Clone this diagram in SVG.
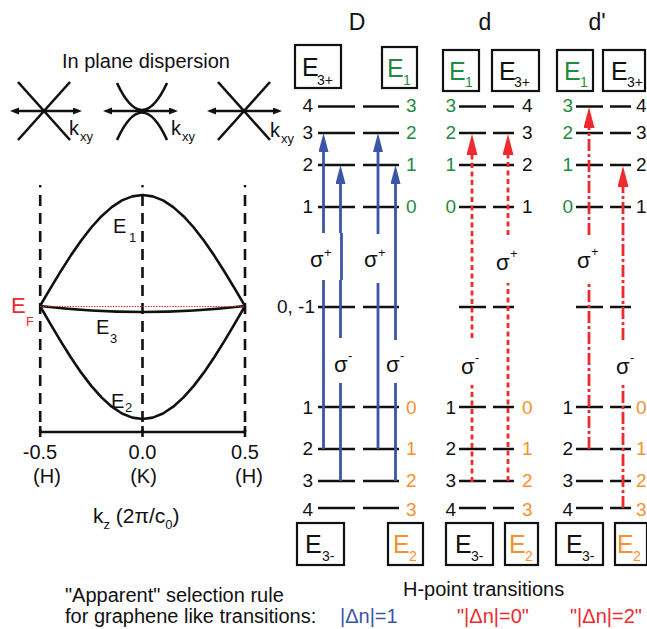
<svg xmlns="http://www.w3.org/2000/svg" width="647" height="629" viewBox="0 0 647 629">
  <style>
    text { font-family: "Liberation Sans", Arial, Helvetica, sans-serif; fill: #111; }
    .lbl { font-size: 19px; }
    .ttl { font-size: 23px; }
    .big { font-size: 20px; }
    .bx { font-size: 25px; }
    .bxs { font-size: 14px; }
    .sig { font-size: 22px; }
    .sup { font-size: 13px; }
    .g { fill: #1e8c3c; }
    .o { fill: #f7902d; }
    .r { fill: #ee2a2e; }
    .b { fill: #3b56a6; }
    .lvl { stroke: #111; stroke-width: 2.6; }
    .box { fill: #fff; stroke: #111; stroke-width: 2.2; }
    .blue { stroke: #3b56a6; stroke-width: 2.8; fill: none; }
    .redd { stroke: #ee2a2e; stroke-width: 2.8; fill: none; stroke-dasharray: 5 3.5; }
    .reddd { stroke: #ee2a2e; stroke-width: 2.8; fill: none; stroke-dasharray: 12 3 3 3; }
    .ax { stroke: #111; stroke-width: 2.6; fill: none; }
    .vd { stroke: #111; stroke-width: 2.6; stroke-dasharray: 11 7; }
  </style>
  <defs>
    <marker id="headB" markerUnits="userSpaceOnUse" markerWidth="20" markerHeight="12" refX="0" refY="5" orient="auto">
      <path d="M0,0 L19,5 L0,10 z" fill="#3b56a6"/>
    </marker>
    <marker id="headR" markerUnits="userSpaceOnUse" markerWidth="22" markerHeight="12" refX="0" refY="5.5" orient="auto">
      <path d="M0,0 L21,5.5 L0,11 z" fill="#ee2a2e"/>
    </marker>
    <marker id="headK" markerUnits="userSpaceOnUse" markerWidth="10" markerHeight="8" refX="0" refY="3.5" orient="auto-start-reverse">
      <path d="M0,0 L9,3.5 L0,7 z" fill="#111"/>
    </marker>
  </defs>

  <!-- in-plane dispersion sketches -->
  <g id="inplane">
    <text class="big" x="62" y="68">In plane dispersion</text>
    <g id="cone-left">
      <line class="ax" x1="18" y1="82" x2="70" y2="140"/>
      <line class="ax" x1="70" y1="82" x2="18" y2="140"/>
      <line class="ax" x1="19" y1="111" x2="73" y2="111" marker-start="url(#headK)" marker-end="url(#headK)"/>
      <text class="big" x="69" y="135">k</text>
      <text class="sup" x="80" y="141">xy</text>
    </g>
    <g id="cone-mid">
      <path class="ax" d="M117,83 Q142,137 167,83"/>
      <path class="ax" d="M117,140 Q142,85 167,140"/>
      <line class="ax" x1="112" y1="111" x2="169" y2="111" marker-start="url(#headK)" marker-end="url(#headK)"/>
      <text class="big" x="171" y="135">k</text>
      <text class="sup" x="182" y="141">xy</text>
    </g>
    <g id="cone-right">
      <line class="ax" x1="218" y1="82" x2="270" y2="140"/>
      <line class="ax" x1="270" y1="82" x2="218" y2="140"/>
      <line class="ax" x1="216" y1="111" x2="273" y2="111" marker-start="url(#headK)" marker-end="url(#headK)"/>
      <text class="big" x="270" y="137">k</text>
      <text class="sup" x="281" y="143">xy</text>
    </g>
  </g>

  <!-- out-of-plane (kz) dispersion -->
  <g id="kz-plot">
    <rect x="39" y="185" width="2.4" height="2.4" fill="#111"/>
    <rect x="141.3" y="185" width="2.4" height="2.4" fill="#111"/>
    <rect x="243.8" y="185" width="2.4" height="2.4" fill="#111"/>
    <line class="vd" x1="40.2" y1="195" x2="40.2" y2="432"/>
    <line class="vd" x1="142.5" y1="195" x2="142.5" y2="432"/>
    <line class="vd" x1="245" y1="195" x2="245" y2="432"/>
    <polyline class="ax" stroke-linejoin="round" points="40,306 50.25,288.6 60.5,271.7 70.75,255.6 81,240.8 91.25,227.5 101.5,216.2 111.75,207.1 122,200.4 132.25,196.4 142.5,195 152.75,196.4 163,200.4 173.25,207.1 183.5,216.2 193.75,227.5 204,240.8 214.25,255.6 224.5,271.7 234.75,288.6 245,306"/>
    <polyline class="ax" stroke-linejoin="round" points="40,306 50.25,323.7 60.5,340.9 70.75,357.3 81,372.4 91.25,385.9 101.5,397.4 111.75,406.7 122,413.5 132.25,417.6 142.5,419 152.75,417.6 163,413.5 173.25,406.7 183.5,397.4 193.75,385.9 204,372.4 214.25,357.3 224.5,340.9 234.75,323.7 245,306"/>
    <path class="ax" stroke-width="2.8" d="M40,306 Q142.5,318 245,306"/>
    <line x1="40" y1="306.5" x2="245" y2="306.5" stroke="#ee2a2e" stroke-width="1" stroke-dasharray="1.5 1.2"/>
    <line class="ax" stroke-width="3.4" x1="40" y1="432" x2="245" y2="432"/>
    <line class="ax" stroke-width="3.4" x1="40.2" y1="426" x2="40.2" y2="437"/>
    <line class="ax" stroke-width="3.4" x1="142.5" y1="426" x2="142.5" y2="437"/>
    <line class="ax" stroke-width="3.4" x1="245" y1="426" x2="245" y2="437"/>
    <text class="big" x="113" y="233">E</text>
    <text class="sup" x="129" y="242">1</text>
    <text class="big" x="96" y="334">E</text>
    <text class="sup" x="110" y="343">3</text>
    <text class="big" x="111" y="408">E</text>
    <text class="sup" x="125" y="412">2</text>
    <text class="r" font-size="22" x="11" y="313">E</text>
    <text class="r sup" x="26" y="326">F</text>
    <text class="big" x="40" y="459" text-anchor="middle">-0.5</text>
    <text class="big" x="142.5" y="459" text-anchor="middle">0.0</text>
    <text class="big" x="245" y="459" text-anchor="middle">0.5</text>
    <text class="big" x="47" y="483" text-anchor="middle">(H)</text>
    <text class="big" x="143.5" y="483" text-anchor="middle">(K)</text>
    <text class="big" x="249" y="483" text-anchor="middle">(H)</text>
    <text font-size="21" x="93" y="523">k<tspan font-size="13" dy="6">z</tspan><tspan dy="-6"> (2π/c</tspan><tspan font-size="13" dy="6">0</tspan><tspan dy="-6">)</tspan></text>
  </g>

  <!-- column titles -->
  <text class="ttl" x="357" y="30" text-anchor="middle">D</text>
  <text class="ttl" x="485" y="30" text-anchor="middle">d</text>
  <text class="ttl" x="597" y="30" text-anchor="middle">d'</text>

  <!-- Landau level ladders -->
  <g id="levels-D">
    <path class="lvl" d="M318,106.5H355M363,106.5H399M318,133H355M363,133H399M318,165H355M363,165H399M318,207H355M363,207H399M318,307H355M363,307H399M318,407H355M363,407H399M318,449H355M363,449H399M318,481H355M363,481H399M318,508H355M363,508H399"/>
    <g class="lbl" text-anchor="end">
      <text x="313" y="112">4</text><text x="313" y="139">3</text><text x="313" y="171">2</text><text x="313" y="213">1</text>
      <text x="315" y="313">0, -1</text>
      <text x="313" y="414">1</text><text x="313" y="455">2</text><text x="313" y="487">3</text><text x="313" y="516">4</text>
    </g>
    <g class="lbl">
      <text class="g" x="406" y="112">3</text><text class="g" x="406" y="139">2</text><text class="g" x="406" y="171">1</text><text class="g" x="406" y="213">0</text>
      <text class="o" x="406" y="414">0</text><text class="o" x="406" y="455">1</text><text class="o" x="406" y="487">2</text><text class="o" x="406" y="516">3</text>
    </g>
  </g>
  <g id="levels-d">
    <path class="lvl" d="M459,106.5H486M493,106.5H514M459,133H486M493,133H514M459,165H486M493,165H514M459,207H486M493,207H514M459,307H486M493,307H514M459,407H486M493,407H514M459,449H486M493,449H514M459,481H486M493,481H514M459,508H486M493,508H514"/>
    <g class="lbl" text-anchor="end">
      <text class="g" x="456" y="112">3</text><text class="g" x="456" y="139">2</text><text class="g" x="456" y="171">1</text><text class="g" x="456" y="213">0</text>
      <text x="456" y="414">1</text><text x="456" y="455">2</text><text x="456" y="487">3</text><text x="456" y="516">4</text>
    </g>
    <g class="lbl">
      <text x="522" y="112">4</text><text x="522" y="139">3</text><text x="522" y="171">2</text><text x="522" y="213">1</text>
      <text class="o" x="522" y="414">0</text><text class="o" x="522" y="455">1</text><text class="o" x="522" y="487">2</text><text class="o" x="522" y="516">3</text>
    </g>
  </g>
  <g id="levels-dp">
    <path class="lvl" d="M576,106.5H603M610,106.5H631M576,133H603M610,133H631M576,165H603M610,165H631M576,207H603M610,207H631M576,307H603M610,307H631M576,407H603M610,407H631M576,449H603M610,449H631M576,481H603M610,481H631M576,508H603M610,508H631"/>
    <g class="lbl" text-anchor="end">
      <text class="g" x="573" y="112">3</text><text class="g" x="573" y="139">2</text><text class="g" x="573" y="171">1</text><text class="g" x="573" y="213">0</text>
      <text x="573" y="414">1</text><text x="573" y="455">2</text><text x="573" y="487">3</text><text x="573" y="516">4</text>
    </g>
    <g class="lbl">
      <text x="636" y="112">4</text><text x="636" y="139">3</text><text x="636" y="171">2</text><text x="636" y="213">1</text>
      <text class="o" x="636" y="414">0</text><text class="o" x="636" y="455">1</text><text class="o" x="636" y="487">2</text><text class="o" x="636" y="516">3</text>
    </g>
  </g>

  <!-- band boxes -->
  <g id="box-D-E3p"><rect class="box" x="295" y="45" width="46" height="43"/><text class="bx" x="302" y="76">E</text><text class="bxs" x="317" y="85">3+</text></g>
  <g id="box-D-E1"><rect class="box" x="382" y="47" width="35" height="41"/><text class="bx g" x="387" y="77">E</text><text class="bxs g" x="403" y="85">1</text></g>
  <g id="box-d-E1"><rect class="box" x="443" y="50" width="36" height="41"/><text class="bx g" x="449" y="80">E</text><text class="bxs g" x="465" y="87">1</text></g>
  <g id="box-d-E3p"><rect class="box" x="492" y="50" width="47" height="41"/><text class="bx" x="499" y="80">E</text><text class="bxs" x="514" y="87">3+</text></g>
  <g id="box-dp-E1"><rect class="box" x="557" y="50" width="36" height="41"/><text class="bx g" x="564" y="80">E</text><text class="bxs g" x="580" y="87">1</text></g>
  <g id="box-dp-E3p"><rect class="box" x="603" y="50" width="42" height="41"/><text class="bx" x="611" y="80">E</text><text class="bxs" x="627" y="87">3+</text></g>
  <g id="box-D-E3m"><rect class="box" x="297" y="523" width="47" height="42"/><text class="bx" x="305" y="553">E</text><text class="bxs" x="322" y="561">3-</text></g>
  <g id="box-D-E2"><rect class="box" x="388" y="523" width="35" height="42"/><text class="bx o" x="393" y="553">E</text><text class="bxs o" x="409" y="561">2</text></g>
  <g id="box-d-E3m"><rect class="box" x="446" y="523" width="47" height="42"/><text class="bx" x="455" y="553">E</text><text class="bxs" x="471" y="561">3-</text></g>
  <g id="box-d-E2"><rect class="box" x="505" y="523" width="33" height="42"/><text class="bx o" x="509" y="553">E</text><text class="bxs o" x="525" y="561">2</text></g>
  <g id="box-dp-E3m"><rect class="box" x="556" y="523" width="47" height="42"/><text class="bx" x="566" y="553">E</text><text class="bxs" x="582" y="561">3-</text></g>
  <g id="box-dp-E2"><rect class="box" x="615" y="523" width="32" height="42"/><text class="bx o" x="617" y="553">E</text><text class="bxs o" x="633" y="561">2</text></g>

  <!-- optical transitions -->
  <g id="connectors">
    <!-- D: |dn| = 1 -->
    <line class="blue" x1="323.5" y1="449" x2="323.5" y2="280"/>
    <line class="blue" x1="323.5" y1="233" x2="323.5" y2="152" marker-end="url(#headB)"/>
    <line class="blue" x1="340.5" y1="481" x2="340.5" y2="383"/>
    <line class="blue" x1="340.5" y1="338" x2="340.5" y2="280"/>
    <line class="blue" stroke-width="1.2" x1="341.5" y1="280" x2="341.5" y2="233"/>
    <line class="blue" x1="340.5" y1="233" x2="340.5" y2="184" marker-end="url(#headB)"/>
    <line class="blue" x1="378" y1="449" x2="378" y2="283"/>
    <line class="blue" x1="378" y1="234" x2="378" y2="152" marker-end="url(#headB)"/>
    <line class="blue" x1="395.5" y1="481" x2="395.5" y2="383"/>
    <line class="blue" x1="395.5" y1="340" x2="395.5" y2="184" marker-end="url(#headB)"/>
    <!-- d: "|dn| = 0" -->
    <line class="redd" x1="472" y1="482" x2="472" y2="385"/>
    <line class="redd" x1="472" y1="338" x2="472" y2="155" marker-end="url(#headR)"/>
    <line class="redd" x1="508" y1="481" x2="508" y2="283"/>
    <line class="redd" x1="508" y1="235" x2="508" y2="155" marker-end="url(#headR)"/>
    <!-- d': "|dn| = 2" -->
    <line class="reddd" x1="589" y1="449" x2="589" y2="282"/>
    <line class="reddd" x1="589" y1="235" x2="589" y2="128" marker-end="url(#headR)"/>
    <line class="reddd" x1="623" y1="508" x2="623" y2="385"/>
    <line class="reddd" x1="623" y1="340" x2="623" y2="187" marker-end="url(#headR)"/>
  </g>

  <!-- polarisation labels -->
  <g id="sigma-labels">
    <text class="sig" x="310" y="267">σ</text><text class="sup" x="324" y="257">+</text>
    <text class="sig" x="364" y="267">σ</text><text class="sup" x="378" y="257">+</text>
    <text class="sig" x="334" y="372">σ</text><text class="sup" x="348" y="360">-</text>
    <text class="sig" x="386" y="372">σ</text><text class="sup" x="400" y="360">-</text>
    <text class="sig" x="496" y="270">σ</text><text class="sup" x="510" y="258">+</text>
    <text class="sig" x="461" y="374">σ</text><text class="sup" x="475" y="362">-</text>
    <text class="sig" x="577" y="268">σ</text><text class="sup" x="591" y="256">+</text>
    <text class="sig" x="616" y="374">σ</text><text class="sup" x="630" y="362">-</text>
  </g>

  <!-- legend -->
  <g id="legend">
    <text class="big" x="403" y="596">H-point transitions</text>
    <text class="big" x="65" y="602">"Apparent" selection rule</text>
    <text class="big" x="65" y="623">for graphene like transitions:</text>
    <text class="big b" x="340" y="623">|Δn|=1</text>
    <text class="big r" x="457" y="623">"|Δn|=0"</text>
    <text class="big r" x="570" y="623">"|Δn|=2"</text>
  </g>
</svg>
